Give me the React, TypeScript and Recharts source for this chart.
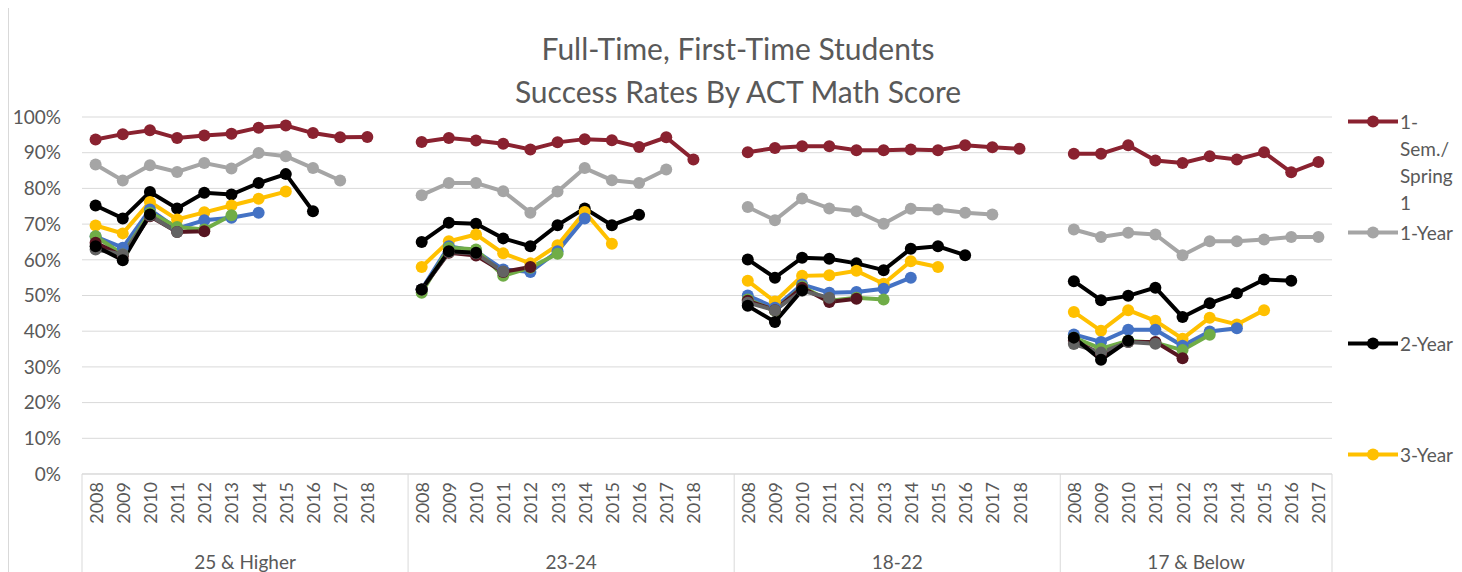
import React from "react";
import { LineChart, Line, XAxis, YAxis, CartesianGrid } from "recharts";

const groups = ["25 & Higher", "23-24", "18-22", "17 & Below"];
const groupYears = [
  ["2008", "2009", "2010", "2011", "2012", "2013", "2014", "2015", "2016", "2017", "2018"],
  ["2008", "2009", "2010", "2011", "2012", "2013", "2014", "2015", "2016", "2017", "2018"],
  ["2008", "2009", "2010", "2011", "2012", "2013", "2014", "2015", "2016", "2017", "2018"],
  ["2008", "2009", "2010", "2011", "2012", "2013", "2014", "2015", "2016", "2017"],
];

// values per group, in percent; shorter lists end earlier
const sem1 = [
  [93.7, 95.2, 96.3, 94.1, 94.8, 95.3, 97.0, 97.6, 95.5, 94.3, 94.4],
  [93.0, 94.1, 93.4, 92.5, 90.9, 92.9, 93.8, 93.5, 91.6, 94.3, 88.1],
  [90.1, 91.3, 91.8, 91.8, 90.7, 90.7, 90.9, 90.7, 92.1, 91.5, 91.1],
  [89.7, 89.7, 92.1, 87.8, 87.1, 89.0, 88.1, 90.1, 84.5, 87.4],
];
const year1 = [
  [86.7, 82.2, 86.5, 84.6, 87.1, 85.6, 89.9, 89.0, 85.7, 82.2],
  [78.1, 81.5, 81.5, 79.2, 73.2, 79.1, 85.7, 82.3, 81.5, 85.3],
  [74.8, 71.1, 77.2, 74.4, 73.6, 70.1, 74.3, 74.1, 73.2, 72.7],
  [68.5, 66.4, 67.6, 67.1, 61.3, 65.2, 65.2, 65.7, 66.4, 66.4],
];
const year2 = [
  [75.2, 71.6, 79.0, 74.4, 78.8, 78.3, 81.5, 84.0, 73.6],
  [65.0, 70.4, 70.1, 66.0, 63.8, 69.7, 74.4, 69.7, 72.6],
  [60.1, 55.0, 60.6, 60.3, 59.0, 57.1, 63.1, 63.8, 61.3],
  [54.0, 48.7, 49.9, 52.2, 44.0, 47.8, 50.6, 54.5, 54.1],
];
const year3 = [
  [69.6, 67.4, 76.2, 71.3, 73.3, 75.2, 77.1, 79.1],
  [58.0, 65.2, 67.1, 61.8, 59.0, 64.1, 73.4, 64.5],
  [54.1, 48.3, 55.5, 55.7, 56.9, 53.3, 59.6, 58.0],
  [45.4, 40.1, 45.9, 42.9, 37.9, 43.8, 41.9, 45.9],
];
const year4 = [
  [66.5, 63.4, 74.1, 68.7, 71.1, 71.8, 73.2],
  [51.7, 63.8, 62.4, 57.3, 56.6, 62.4, 71.6],
  [50.0, 46.6, 53.1, 50.8, 51.0, 51.9, 55.0],
  [39.1, 37.0, 40.4, 40.4, 35.9, 39.9, 40.8],
];
const year5 = [
  [66.6, 61.5, 73.2, 69.2, 68.5, 72.5],
  [50.8, 63.4, 62.9, 55.5, 57.8, 61.7],
  [48.9, 45.7, 52.5, 48.5, 49.4, 48.9],
  [38.2, 35.1, 37.3, 36.8, 34.7, 39.0],
];
const year6 = [
  [64.8, 61.0, 72.2, 67.8, 68.0],
  [51.7, 62.0, 61.2, 56.6, 58.0],
  [48.5, 45.9, 52.2, 48.2, 49.1],
  [37.3, 33.6, 37.0, 37.0, 32.4],
];
const year7 = [
  [62.9, 61.5, 72.4, 67.8],
  [51.7, 62.2, 61.8, 56.7],
  [48.0, 45.9, 51.3, 49.4],
  [36.4, 34.0, 37.0, 36.5],
];
const year8 = [
  [63.8, 59.9, 72.7],
  [51.7, 62.4, 62.0],
  [47.1, 42.6, 51.5],
  [38.2, 32.0, 37.3],
];

const yTicks = [0, 10, 20, 30, 40, 50, 60, 70, 80, 90, 100];

const SERIES = [
  { key: "sem1", name: "1-Sem./Spring 1", label: "1-\u200BSem./\u200BSpring 1", values: sem1, color: "#8A2230", legend: true },
  { key: "year1", name: "1-Year", label: "1-Year", values: year1, color: "#A5A5A5", legend: true },
  { key: "year2", name: "2-Year", label: "2-Year", values: year2, color: "#000000", legend: true },
  { key: "year3", name: "3-Year", label: "3-Year", values: year3, color: "#FFC000", legend: true },
  { key: "year4", name: "4-Year", label: "4-Year", values: year4, color: "#4472C4", legend: false },
  { key: "year5", name: "5-Year", label: "5-Year", values: year5, color: "#70AD47", legend: false },
  { key: "year6", name: "6-Year", label: "6-Year", values: year6, color: "#561520", legend: false },
  { key: "year7", name: "7-Year", label: "7-Year", values: year7, color: "#636363", legend: false },
  { key: "year8", name: "8-Year", label: "8-Year", values: year8, color: "#000000", legend: false },
];

type Row = { [k: string]: string | number | boolean | undefined };

// one row per year, plus a blank slot closing each group except the last
const rows: Row[] = [];
groups.forEach((g, gi) => {
  groupYears[gi].forEach((yr, yi) => {
    const row: Row = { year: yr, group: g, first: yi === 0 };
    SERIES.forEach((s) => {
      const v = s.values[gi][yi];
      if (v !== undefined) row[s.key] = v;
    });
    rows.push(row);
  });
  if (gi < groups.length - 1) rows.push({ year: "", group: g, first: false });
});

const groupSize: Record<string, number> = {};
rows.forEach((r) => {
  groupSize[r.group as string] = (groupSize[r.group as string] ?? 0) + 1;
});

const FONT = "Lato, 'Open Sans', sans-serif";
const TEXT = "#595959";
const GRID = "#d9d9d9";
const W = 1454;
const H = 564;
const MARGIN = { top: 109, right: 131, left: 0, bottom: 0 };
const Y_W = 73;
const X1_H = 60;
const X2_H = 38;
const PLOT_W = W - MARGIN.left - MARGIN.right - Y_W;
const SLOT = PLOT_W / rows.length;
const PLOT_BOTTOM = H - MARGIN.bottom - X1_H - X2_H;
// point scale: pad half a slot on each side so every year sits mid-slot
const X_PAD = { left: SLOT / 2, right: SLOT / 2 };

function YearTick(props: any) {
  const { x, payload } = props;
  const y = PLOT_BOTTOM + 8;
  return (
    <text
      x={x}
      y={y}
      transform={`rotate(-90, ${x}, ${y})`}
      textAnchor="end"
      dominantBaseline="central"
      fill={TEXT}
      fontSize={18}
      fontFamily={FONT}
    >
      {payload.value}
    </text>
  );
}

function GroupTick(props: any) {
  const { x, payload } = props;
  const row = rows[payload.index];
  if (!row) return null;
  const isLast = payload.index === rows.length - 1;
  const left = x - SLOT / 2;
  return (
    <g>
      {row.first ? (
        <line x1={left} x2={left} y1={PLOT_BOTTOM} y2={H} stroke={GRID} strokeWidth={1} />
      ) : null}
      {isLast ? (
        <line x1={x + SLOT / 2} x2={x + SLOT / 2} y1={PLOT_BOTTOM} y2={H} stroke={GRID} strokeWidth={1} />
      ) : null}
      {row.first ? (
        <text
          x={left + (groupSize[row.group as string] * SLOT) / 2}
          y={PLOT_BOTTOM + X1_H + 27}
          textAnchor="middle"
          dominantBaseline="central"
          fill={TEXT}
          fontSize={19}
          fontFamily={FONT}
        >
          {row.group as string}
        </text>
      ) : null}
    </g>
  );
}

function LegendBox() {
  return (
    <div style={{ position: "absolute", left: 1339, top: 100, fontFamily: FONT, color: TEXT, fontSize: 19 }}>
      {SERIES.filter((s) => s.legend).map((s) => (
        <div key={s.key} style={{ height: 111, display: "flex", alignItems: "flex-start" }}>
          <svg width={52} height={27} style={{ flex: "none" }}>
            <line x1={0} x2={50} y1={13.5} y2={13.5} stroke={s.color} strokeWidth={4} />
            <circle cx={25} cy={13.5} r={6} fill={s.color} />
          </svg>
          <div style={{ width: 64, lineHeight: "27px" }}>{s.label}</div>
        </div>
      ))}
    </div>
  );
}

export default function App() {
  return (
    <div style={{ position: "relative", width: W, height: H, borderLeft: `1px solid ${GRID}`, background: "#fff" }}>
      <div
        style={{
          position: "absolute",
          left: 0,
          top: 19,
          width: 1458,
          textAlign: "center",
          fontFamily: FONT,
          fontSize: 30,
          lineHeight: "43px",
          color: TEXT,
        }}
      >
        <div>Full-Time, First-Time Students</div>
        <div>Success Rates By ACT Math Score</div>
      </div>
      <LineChart width={W} height={H} data={rows} margin={MARGIN}>
        <CartesianGrid horizontal vertical={false} stroke={GRID} />
        <XAxis
          dataKey="year"
          padding={X_PAD}
          interval={0}
          height={X1_H}
          axisLine={{ stroke: GRID }}
          tickLine={false}
          tick={<YearTick />}
        />
        <XAxis
          xAxisId="grp"
          dataKey="group"
          padding={X_PAD}
          interval={0}
          height={X2_H}
          axisLine={false}
          tickLine={false}
          tick={<GroupTick />}
        />
        <YAxis
          width={Y_W}
          domain={[0, 100]}
          ticks={yTicks}
          interval={0}
          axisLine={false}
          tickLine={false}
          tickMargin={15}
          tickFormatter={(v: number) => `${v}%`}
          tick={{ fill: TEXT, fontSize: 19, fontFamily: FONT }}
        />
        {SERIES.map((s) => (
          <Line
            key={s.key}
            type="linear"
            dataKey={s.key}
            name={s.name}
            stroke={s.color}
            strokeWidth={4}
            dot={{ r: 6, fill: s.color, stroke: s.color, strokeWidth: 0 }}
            activeDot={false}
            isAnimationActive={false}
          />
        ))}
      </LineChart>
      <LegendBox />
    </div>
  );
}
